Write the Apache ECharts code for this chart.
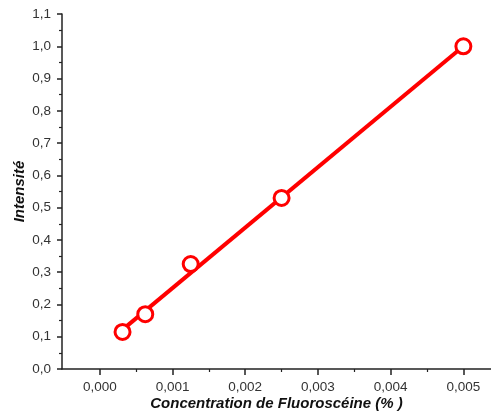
<!DOCTYPE html>
<html><head><meta charset="utf-8">
<script src="https://cdn.jsdelivr.net/npm/echarts@6/dist/echarts.min.js"></script>
<style>html,body{margin:0;padding:0;background:#fff}#c{width:491px;height:413px}</style>
</head><body><div id="c"></div>
<script>
const concX = [0.0003125, 0.000625, 0.00125, 0.0025, 0.005];
const intensY = [0.115, 0.17, 0.325, 0.53, 1.0];
const fitX = [0.0003125, 0.005];
const fitY = [0.122, 1.0];
const xMajorTicks = [0, 0.001, 0.002, 0.003, 0.004, 0.005];
const xMinorTicks = [0.0005, 0.0015, 0.0025, 0.0035, 0.0045];
const xTitle = 'Concentration de Fluoroscéine (% )';
const yTitle = 'Intensité';

const chart = echarts.init(document.getElementById('c'), null, {renderer: 'canvas'});
const axCol = '#222';
const labStyle = {color: '#333', fontFamily: 'Liberation Sans, Arial', fontSize: 13.5};
const xMin = -0.00052, xMax = 0.00538;
chart.setOption({
  animation: false,
  grid: {left: 62, top: 14, right: 0, bottom: 44, outerBoundsMode: 'none', containLabel: false},
  xAxis: [{
    type: 'value', min: xMin, max: xMax,
    axisLine: {onZero: false, lineStyle: {color: axCol, width: 1.5}},
    axisTick: {show: true, length: 6, customValues: xMajorTicks, lineStyle: {color: axCol, width: 1.5}},
    axisLabel: Object.assign({customValues: xMajorTicks, margin: 11,
      formatter: v => v.toFixed(3).replace('.', ',')}, labStyle),
    splitLine: {show: false},
    name: xTitle, nameLocation: 'middle', nameGap: 27, nameMoveOverlap: false,
    nameTextStyle: {fontFamily: 'Liberation Sans, Arial', fontWeight: 'bold', fontStyle: 'italic', fontSize: 15, color: '#111'}
  }, {
    type: 'value', min: xMin, max: xMax, position: 'bottom',
    axisLine: {show: false, onZero: false},
    axisTick: {show: true, length: 3, customValues: xMinorTicks, lineStyle: {color: axCol, width: 1.2}},
    axisLabel: {show: false}, splitLine: {show: false}
  }],
  yAxis: {
    type: 'value', min: 0, max: 1.1, interval: 0.1,
    axisLine: {show: true, onZero: false, lineStyle: {color: axCol, width: 1.5}},
    axisTick: {show: true, length: 5, lineStyle: {color: axCol, width: 1.5}},
    minorTick: {show: true, splitNumber: 2, length: 3, lineStyle: {color: axCol, width: 1.2}},
    axisLabel: Object.assign({margin: 11, formatter: v => v.toFixed(1).replace('.', ',')}, labStyle),
    splitLine: {show: false},
    name: yTitle, nameLocation: 'middle', nameGap: 35, nameMoveOverlap: false,
    nameTextStyle: {fontFamily: 'Liberation Sans, Arial', fontWeight: 'bold', fontStyle: 'italic', fontSize: 15, color: '#111'}
  },
  series: [{
    type: 'line', data: fitX.map((x, i) => [x, fitY[i]]),
    showSymbol: false, lineStyle: {color: '#ff0000', width: 4}, z: 2
  }, {
    type: 'scatter', data: concX.map((x, i) => [x, intensY[i]]),
    symbol: 'circle', symbolSize: 15,
    itemStyle: {color: '#fff', borderColor: '#ff0000', borderWidth: 3, opacity: 1}, z: 3
  }]
});
</script></body></html>
